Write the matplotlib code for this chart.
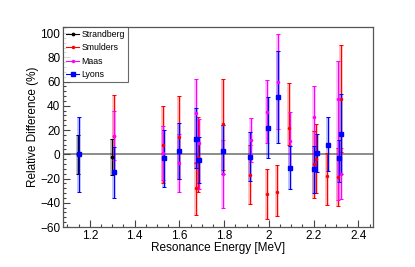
import numpy as np
import matplotlib
matplotlib.use("Agg")
import matplotlib.pyplot as plt
from matplotlib.ticker import MultipleLocator, AutoMinorLocator

plt.rcParams['font.family'] = ['Liberation Sans', 'DejaVu Sans']

# Strandberg
strand_x = [1.145, 1.300]
strand_y = [0, -2]
strand_lo = [16, 15]
strand_hi = [16, 15]

# Smulders
smul_x = [1.307, 1.527, 1.597, 1.672, 1.684, 1.795, 1.917, 1.991, 2.038, 2.091,
          2.200, 2.212, 2.259, 2.307, 2.320]
smul_y = [15, 8, 14, -28, -2, 25, -17, -33, -31, 22, -8, -4, -18, -19, 46]
smul_lo = [31, 32, 34, 22, 29, 38, 24, 20, 20, 14, 28, 28, 24, 24, 44]
smul_hi = [34, 32, 34, 21, 33, 37, 25, 21, 22, 37, 27, 29, 19, 24, 44]

# Maas
maas_x = [1.309, 1.529, 1.600, 1.672, 1.686, 1.797, 1.919, 1.993, 2.041, 2.093,
          2.202, 2.309, 2.322]
maas_y = [15, 1, -7, 34, 9, -16, 12, 35, 60, 11, 31, 46, -16]
maas_lo = [20, 22, 24, 40, 38, 28, 18, 26, 39, 24, 45, 84, 21]
maas_hi = [21, 22, 24, 28, 20, 28, 18, 26, 39, 24, 25, 31, 21]

# Lyons
lyons_x = [1.151, 1.307, 1.531, 1.599, 1.672, 1.687, 1.795, 1.917, 1.994, 2.042,
           2.092, 2.203, 2.215, 2.262, 2.313, 2.323]
lyons_y = [0, -15, -3, 3, 13, -5, 2.5, -2, 22, 47, -11, -12, 1, 8, -3, 17]
lyons_lo = [31, 21, 24, 23, 24, 19, 19, 20, 25, 38, 18, 20, 16, 22, 20, 33]
lyons_hi = [31, 21, 23, 23, 25, 19, 22, 20, 25, 38, 18, 19, 16, 23, 15, 33]

series = [
    ("Strandberg", strand_x, strand_y, strand_lo, strand_hi, "black", "o", 1.7),
    ("Smulders", smul_x, smul_y, smul_lo, smul_hi, "#ff0000", "o", 1.5),
    ("Maas", maas_x, maas_y, maas_lo, maas_hi, "#ff00ff", "o", 1.5),
    ("Lyons", lyons_x, lyons_y, lyons_lo, lyons_hi, "#0000ff", "s", 3.0),
]

fig = plt.figure(figsize=(4.15, 2.67), dpi=100)
ax = fig.add_axes([63/415, 40/267, 310/415, 200/267])

ax.axhline(0, color="#8c8c8c", lw=1.4, zorder=1)

for name, x, y, lo, hi, col, mk, ms in series:
    yerr = np.array([lo, hi])
    # faint band behind the bar
    ax.errorbar(x, y, yerr=yerr, fmt="none", ecolor=col, elinewidth=2.6,
                alpha=0.28, zorder=2)
    ax.errorbar(x, y, yerr=yerr, fmt=mk, color=col, ms=ms, elinewidth=0.75,
                capsize=1.2, capthick=0.75, zorder=3)
    ax.plot([], [], color=col, marker=mk, ms=ms, lw=0.8, label=name)

ax.set_xlim(1.08, 2.465)
ax.set_ylim(-60, 105)
ax.xaxis.set_major_locator(MultipleLocator(0.2))
ax.xaxis.set_minor_locator(MultipleLocator(0.05))
ax.yaxis.set_major_locator(MultipleLocator(20))
ax.yaxis.set_minor_locator(AutoMinorLocator(5))
ax.xaxis.set_major_formatter(plt.FuncFormatter(lambda v, p: ("%g" % round(v, 2))))
ax.tick_params(which="both", direction="in", top=False, right=False,
               labelsize=8.5, color="#444444", pad=2)
ax.tick_params(which="major", length=5, width=0.8)
ax.tick_params(which="minor", length=2.5, width=0.8)
for s in ax.spines.values():
    s.set_color("#555555")
    s.set_linewidth(0.9)

ax.set_xlabel("Resonance Energy [MeV]", fontsize=8.5, labelpad=0)
ax.set_ylabel("Relative Difference (%)", fontsize=8.5, labelpad=1)

leg = ax.legend(loc="upper left", bbox_to_anchor=(0, 1), borderaxespad=0,
                fontsize=6.3, frameon=True, fancybox=False, edgecolor="#444444",
                handlelength=1.5, handletextpad=0.25, labelspacing=0.5,
                borderpad=0.35, shadow=False)
leg.get_frame().set_linewidth(0.8)

fig.savefig("out.png", dpi=100)
